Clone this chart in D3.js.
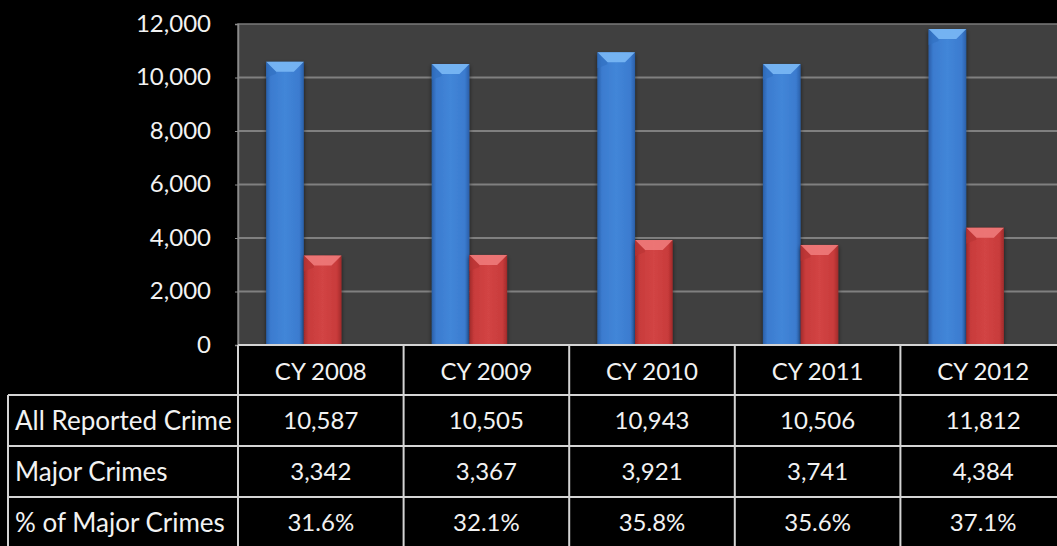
<!DOCTYPE html>
<html>
<head>
<meta charset="utf-8">
<script src="https://cdn.jsdelivr.net/npm/d3@7"></script>
<style>
  html, body { margin: 0; padding: 0; background: #000; overflow: hidden; }
  text { font-family: Lato, "Open Sans", sans-serif; fill: #f2f2f2; }
</style>
</head>
<body>
<svg id="chart"></svg>
<script>
// chart data
var years = ["CY 2008", "CY 2009", "CY 2010", "CY 2011", "CY 2012"];
var allReported = [10587, 10505, 10943, 10506, 11812];
var majorCrimes = [3342, 3367, 3921, 3741, 4384];
var pctMajor = ["31.6%", "32.1%", "35.8%", "35.6%", "37.1%"];
var rowLabels = ["All Reported Crime", "Major Crimes", "% of Major Crimes"];
var yTicks = [0, 2000, 4000, 6000, 8000, 10000, 12000];

var W = 1057, H = 546;
var plot = { left: 238, top: 24, right: 1066, bottom: 345 };
var rowH = 51;

var svg = d3.select("#chart").attr("width", W).attr("height", H);

var defs = svg.append("defs");
function barGrad(id, dark, mid, light) {
    var g = defs.append("linearGradient").attr("id", id)
        .attr("x1", "0").attr("x2", "1").attr("y1", "0").attr("y2", "0");
    g.append("stop").attr("offset", "0%").attr("stop-color", dark);
    g.append("stop").attr("offset", "12%").attr("stop-color", mid);
    g.append("stop").attr("offset", "50%").attr("stop-color", light);
    g.append("stop").attr("offset", "88%").attr("stop-color", mid);
    g.append("stop").attr("offset", "100%").attr("stop-color", dark);
}
barGrad("gBlue", "#2a5fa8", "#3b7bcf", "#4286d8");
barGrad("gRed", "#a02a2a", "#c83b3b", "#d24444");

var shadow = defs.append("filter").attr("id", "shadow")
    .attr("x", "-20%").attr("y", "-5%").attr("width", "140%").attr("height", "115%");
shadow.append("feDropShadow").attr("dx", 0).attr("dy", 2).attr("stdDeviation", 2)
    .attr("flood-color", "#000").attr("flood-opacity", 0.6);

// scales
var x = d3.scaleBand().domain(years).range([plot.left, plot.right]).padding(0);
var bw = x.bandwidth();
var x1 = d3.scaleBand().domain(["all", "major"]).range([bw * 0.17, bw * 0.625]).padding(0);
var y = d3.scaleLinear().domain([0, 12000]).range([plot.bottom, plot.top]);

// plot background
svg.append("rect")
    .attr("x", plot.left).attr("y", plot.top)
    .attr("width", plot.right - plot.left).attr("height", plot.bottom - plot.top)
    .attr("fill", "#404040")
    .attr("stroke", "#7a7a7a").attr("stroke-width", 1.5);

// gridlines
svg.append("g").selectAll("line")
    .data(yTicks.slice(1, -1))
    .enter().append("line")
    .attr("x1", plot.left).attr("x2", plot.right)
    .attr("y1", d => y(d)).attr("y2", d => y(d))
    .attr("stroke", "#808080").attr("stroke-width", 2);

// y axis
var yAxis = svg.append("g")
    .attr("transform", `translate(${plot.left},0)`)
    .call(d3.axisLeft(y).tickValues(yTicks).tickSize(3).tickPadding(24)
        .tickFormat(d3.format(",")));
yAxis.select(".domain").attr("stroke", "#8a8a8a").attr("stroke-width", 1.5);
yAxis.selectAll(".tick line").attr("stroke", "#8a8a8a");
yAxis.selectAll(".tick text")
    .style("font-size", "24px").attr("fill", "#f2f2f2").attr("dy", "0.3em");

// bars
var series = [
    { key: "all", values: allReported, fill: "url(#gBlue)", top: "#7ab8f5", side: "#3070c0" },
    { key: "major", values: majorCrimes, fill: "url(#gRed)", top: "#ee7a7a", side: "#b83434" }
];

function drawBars(s) {
    var g = svg.append("g");
    var w = x1.bandwidth();
    var bars = g.selectAll("g").data(years).enter().append("g")
        .attr("transform", d => `translate(${x(d) + x1(s.key)},0)`);
    bars.append("rect")
        .attr("x", 0).attr("width", w)
        .attr("y", (d, i) => y(s.values[i]))
        .attr("height", (d, i) => y(0) - y(s.values[i]))
        .attr("fill", s.fill)
        .attr("filter", "url(#shadow)");
    // bevelled top face
    var b = 10;
    bars.append("path")
        .attr("d", (d, i) => {
            var t = y(s.values[i]);
            return `M0,${t} L${w},${t} L${w - b},${t + b} L${b},${t + b} Z`;
        })
        .attr("fill", s.top).attr("opacity", 0.9);
    bars.append("path")
        .attr("d", (d, i) => {
            var t = y(s.values[i]);
            return `M0,${t} L${b},${t + b} L${b},${t + b + 2} L0,${t + b + 6} Z`;
        })
        .attr("fill", s.side).attr("opacity", 0.6);
}
series.forEach(drawBars);

// data table
var lineColor = "#d4d4d4";
var tbl = svg.append("g");
var rowTop = d3.range(4).map(i => plot.bottom + i * rowH - (i > 0 ? 1 : 0));

// horizontal lines
tbl.append("line")
    .attr("x1", plot.left).attr("x2", W)
    .attr("y1", plot.bottom).attr("y2", plot.bottom)
    .attr("stroke", lineColor).attr("stroke-width", 2);
tbl.selectAll("line.h").data(rowTop.slice(1)).enter().append("line")
    .attr("class", "h")
    .attr("x1", 8).attr("x2", W)
    .attr("y1", d => d).attr("y2", d => d)
    .attr("stroke", lineColor).attr("stroke-width", 2);
// vertical lines
tbl.append("line")
    .attr("x1", 8).attr("x2", 8)
    .attr("y1", rowTop[1]).attr("y2", H)
    .attr("stroke", lineColor).attr("stroke-width", 2);
tbl.selectAll("line.v").data(years.concat(["end"])).enter().append("line")
    .attr("class", "v")
    .attr("x1", d => d === "end" ? plot.right : x(d))
    .attr("x2", d => d === "end" ? plot.right : x(d))
    .attr("y1", plot.bottom).attr("y2", H)
    .attr("stroke", lineColor).attr("stroke-width", 2);

// header row
tbl.selectAll("text.hdr").data(years).enter().append("text")
    .attr("class", "hdr")
    .attr("x", d => x(d) + bw / 2)
    .attr("y", rowTop[0] + rowH / 2 + 1)
    .attr("text-anchor", "middle").attr("dy", "0.35em")
    .style("font-size", "24px")
    .text(d => d);

// row labels
tbl.selectAll("text.lbl").data(rowLabels).enter().append("text")
    .attr("class", "lbl")
    .attr("x", 15)
    .attr("y", (d, i) => rowTop[i + 1] + rowH / 2)
    .attr("dy", "0.35em")
    .style("font-size", "26px")
    .text(d => d);

// row values
var rows = [allReported.map(d3.format(",")), majorCrimes.map(d3.format(",")), pctMajor];
rows.forEach(function (vals, r) {
    tbl.selectAll("text.r" + r).data(vals).enter().append("text")
        .attr("class", "r" + r)
        .attr("x", (d, i) => x(years[i]) + bw / 2)
        .attr("y", rowTop[r + 1] + rowH / 2)
        .attr("text-anchor", "middle").attr("dy", "0.35em")
        .style("font-size", "24px")
        .text(d => d);
});
</script>
</body>
</html>
